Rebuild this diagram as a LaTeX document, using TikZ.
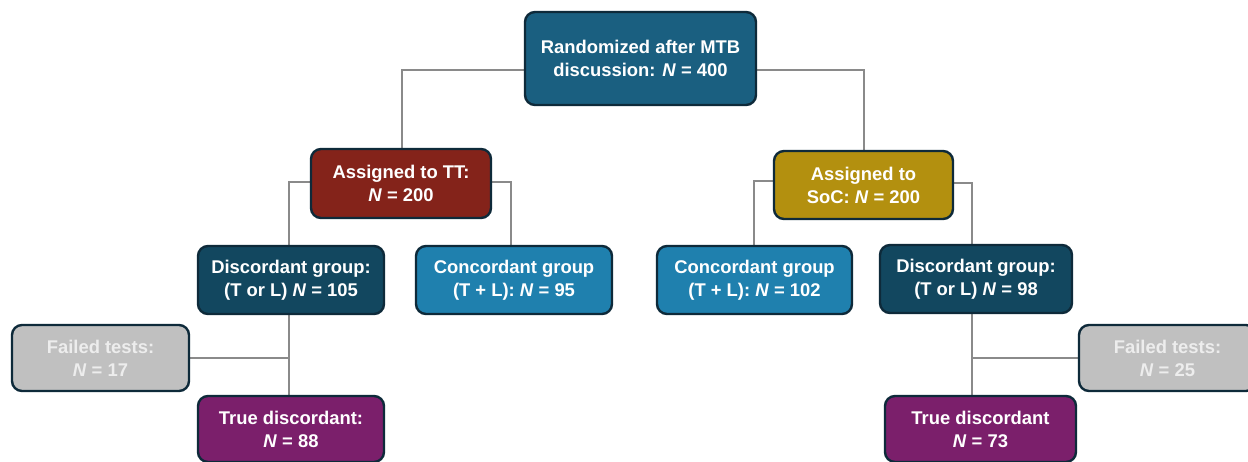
\documentclass[tikz,border=0pt]{standalone}
\usepackage{fontspec}
\setmainfont{Liberation Sans}
\usetikzlibrary{backgrounds}
\begin{document}
\begin{tikzpicture}[x=1pt,y=-1pt,
  box/.style={draw=bordercol, line width=2.4pt, rounded corners=10pt, align=center,
    text=white, font=\fontsize{18.4}{23}\selectfont\bfseries, inner sep=0pt},
  conn/.style={draw=conncol, line width=2.6pt}]
\definecolor{bordercol}{HTML}{0E2A3A}
\definecolor{conncol}{HTML}{8A8A8A}
\definecolor{topcol}{HTML}{1A5F80}
\definecolor{ttcol}{HTML}{84231A}
\definecolor{soccol}{HTML}{B3900F}
\definecolor{disccol}{HTML}{12475F}
\definecolor{conccol}{HTML}{1F80AE}
\definecolor{failcol}{HTML}{C0C0C0}
\definecolor{failtext}{HTML}{EDEDED}
\definecolor{truecol}{HTML}{7B1F6B}
\useasboundingbox (0,0) rectangle (1248,461);
\node[box, fill=topcol, minimum width=231pt, minimum height=93pt] (top) at (640.5,58.5)
  {Randomized after MTB\\discussion: \textit{N} = 400};
\node[box, fill=ttcol, minimum width=180pt, minimum height=69pt] (tt) at (401,183.5)
  {Assigned to TT:\\\textit{N} = 200};
\node[box, fill=soccol, minimum width=179pt, minimum height=68pt] (soc) at (863.5,185)
  {Assigned to\\SoC: \textit{N} = 200};
\node[box, fill=disccol, minimum width=186pt, minimum height=68pt] (dl) at (291,280)
  {Discordant group:\\(T or L) \textit{N} = 105};
\node[box, fill=conccol, minimum width=196pt, minimum height=68pt] (cl) at (514,280)
  {Concordant group\\(T + L): \textit{N} = 95};
\node[box, fill=conccol, minimum width=195pt, minimum height=68pt] (cr) at (754.5,280)
  {Concordant group\\(T + L): \textit{N} = 102};
\node[box, fill=disccol, minimum width=192pt, minimum height=68pt] (dr) at (976,279)
  {Discordant group:\\(T or L) \textit{N} = 98};
\node[box, fill=failcol, text=failtext, minimum width=177pt, minimum height=66pt] (fl) at (100.5,358)
  {Failed tests:\\\textit{N} = 17};
\node[box, fill=failcol, text=failtext, minimum width=177pt, minimum height=66pt] (fr) at (1167.5,358)
  {Failed tests:\\\textit{N} = 25};
\node[box, fill=truecol, minimum width=186pt, minimum height=66pt] (tl) at (291,429)
  {True discordant:\\\textit{N} = 88};
\node[box, fill=truecol, minimum width=191pt, minimum height=66pt] (tr) at (980.5,429)
  {True discordant\\\textit{N} = 73};
\coordinate (jl) at (289,358);
\coordinate (jr) at (972,358);
\begin{scope}[on background layer]
  \fill[white] (0,0) rectangle (1248,461);
  \draw[conn] ([yshift=-11.5pt]top.west) -| ([xshift=1pt]tt.north);
  \draw[conn] ([yshift=-11.5pt]top.east) -| ([xshift=0.5pt]soc.north);
  \draw[conn] ([yshift=1.5pt]tt.west) -| (dl.north -| jl);
  \draw[conn] ([yshift=1.5pt]tt.east) -| ([xshift=-3pt]cl.north);
  \draw[conn] ([yshift=4pt]soc.west) -| ([xshift=-0.5pt]cr.north);
  \draw[conn] ([yshift=2pt]soc.east) -| (dr.north -| jr);
  \draw[conn] (dl.south -| jl) -- (tl.north -| jl);
  \draw[conn] (fl.east) -- (jl);
  \draw[conn] (dr.south -| jr) -- (tr.north -| jr);
  \draw[conn] (fr.west) -- (jr);
\end{scope}
\end{tikzpicture}
\end{document}
